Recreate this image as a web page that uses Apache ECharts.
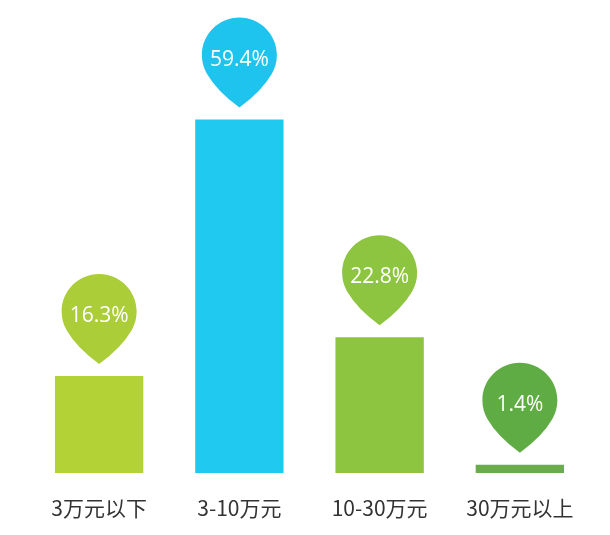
<!DOCTYPE html>
<html><head><meta charset="utf-8">
<script src="https://cdn.jsdelivr.net/npm/echarts@6/dist/echarts.min.js"></script>
<style>html,body{margin:0;padding:0;background:#fff}#c{width:610px;height:535px}</style>
</head><body><div id="c"></div>
<script>
const categories = ['3万元以下', '3-10万元', '10-30万元', '30万元以上'];
const values = [16.3, 59.4, 22.8, 1.4];
const barColors = ['#b3d236', '#1fc9f0', '#8dc540', '#6aab4c'];
const pinColors = ['#aacd38', '#1fc4ee', '#8dc540', '#5fac44'];

const pinPath = 'path://M37.5 90 Q15 73.6 5 56.25 C1.71 50.55 0 44.08 0 37.5 C0 16.79 16.79 0 37.5 0 C58.21 0 75 16.79 75 37.5 C75 44.08 73.29 50.55 70 56.25 Q60 73.6 37.5 90 Z';

const chart = echarts.init(document.getElementById('c'));
chart.setOption({
  animation: false,
  backgroundColor: '#ffffff',
  grid: { left: 29, right: 20, top: 56.5, bottom: 62 },
  xAxis: {
    type: 'category',
    data: categories,
    axisLine: { show: false },
    axisTick: { show: false },
    axisLabel: { fontSize: 21, color: '#333', margin: 25, fontFamily: 'Noto Sans CJK SC' }
  },
  yAxis: { type: 'value', min: 0, max: 70, show: false, splitLine: { show: false } },
  series: [{
    type: 'bar',
    barWidth: '63%',
    data: values.map((v, i) => ({ value: v, itemStyle: { color: barColors[i] } })),
    markPoint: {
      symbol: pinPath,
      symbolSize: [75, 90],
      symbolOffset: [0, -57],
      label: {
        color: '#fff', fontSize: 21, fontFamily: 'Open Sans',
        offset: [0, -3],
        formatter: p => p.value + '%'
      },
      data: values.map((v, i) => ({
        coord: [i, v], value: v, itemStyle: { color: pinColors[i] }
      }))
    }
  }]
});
</script></body></html>
